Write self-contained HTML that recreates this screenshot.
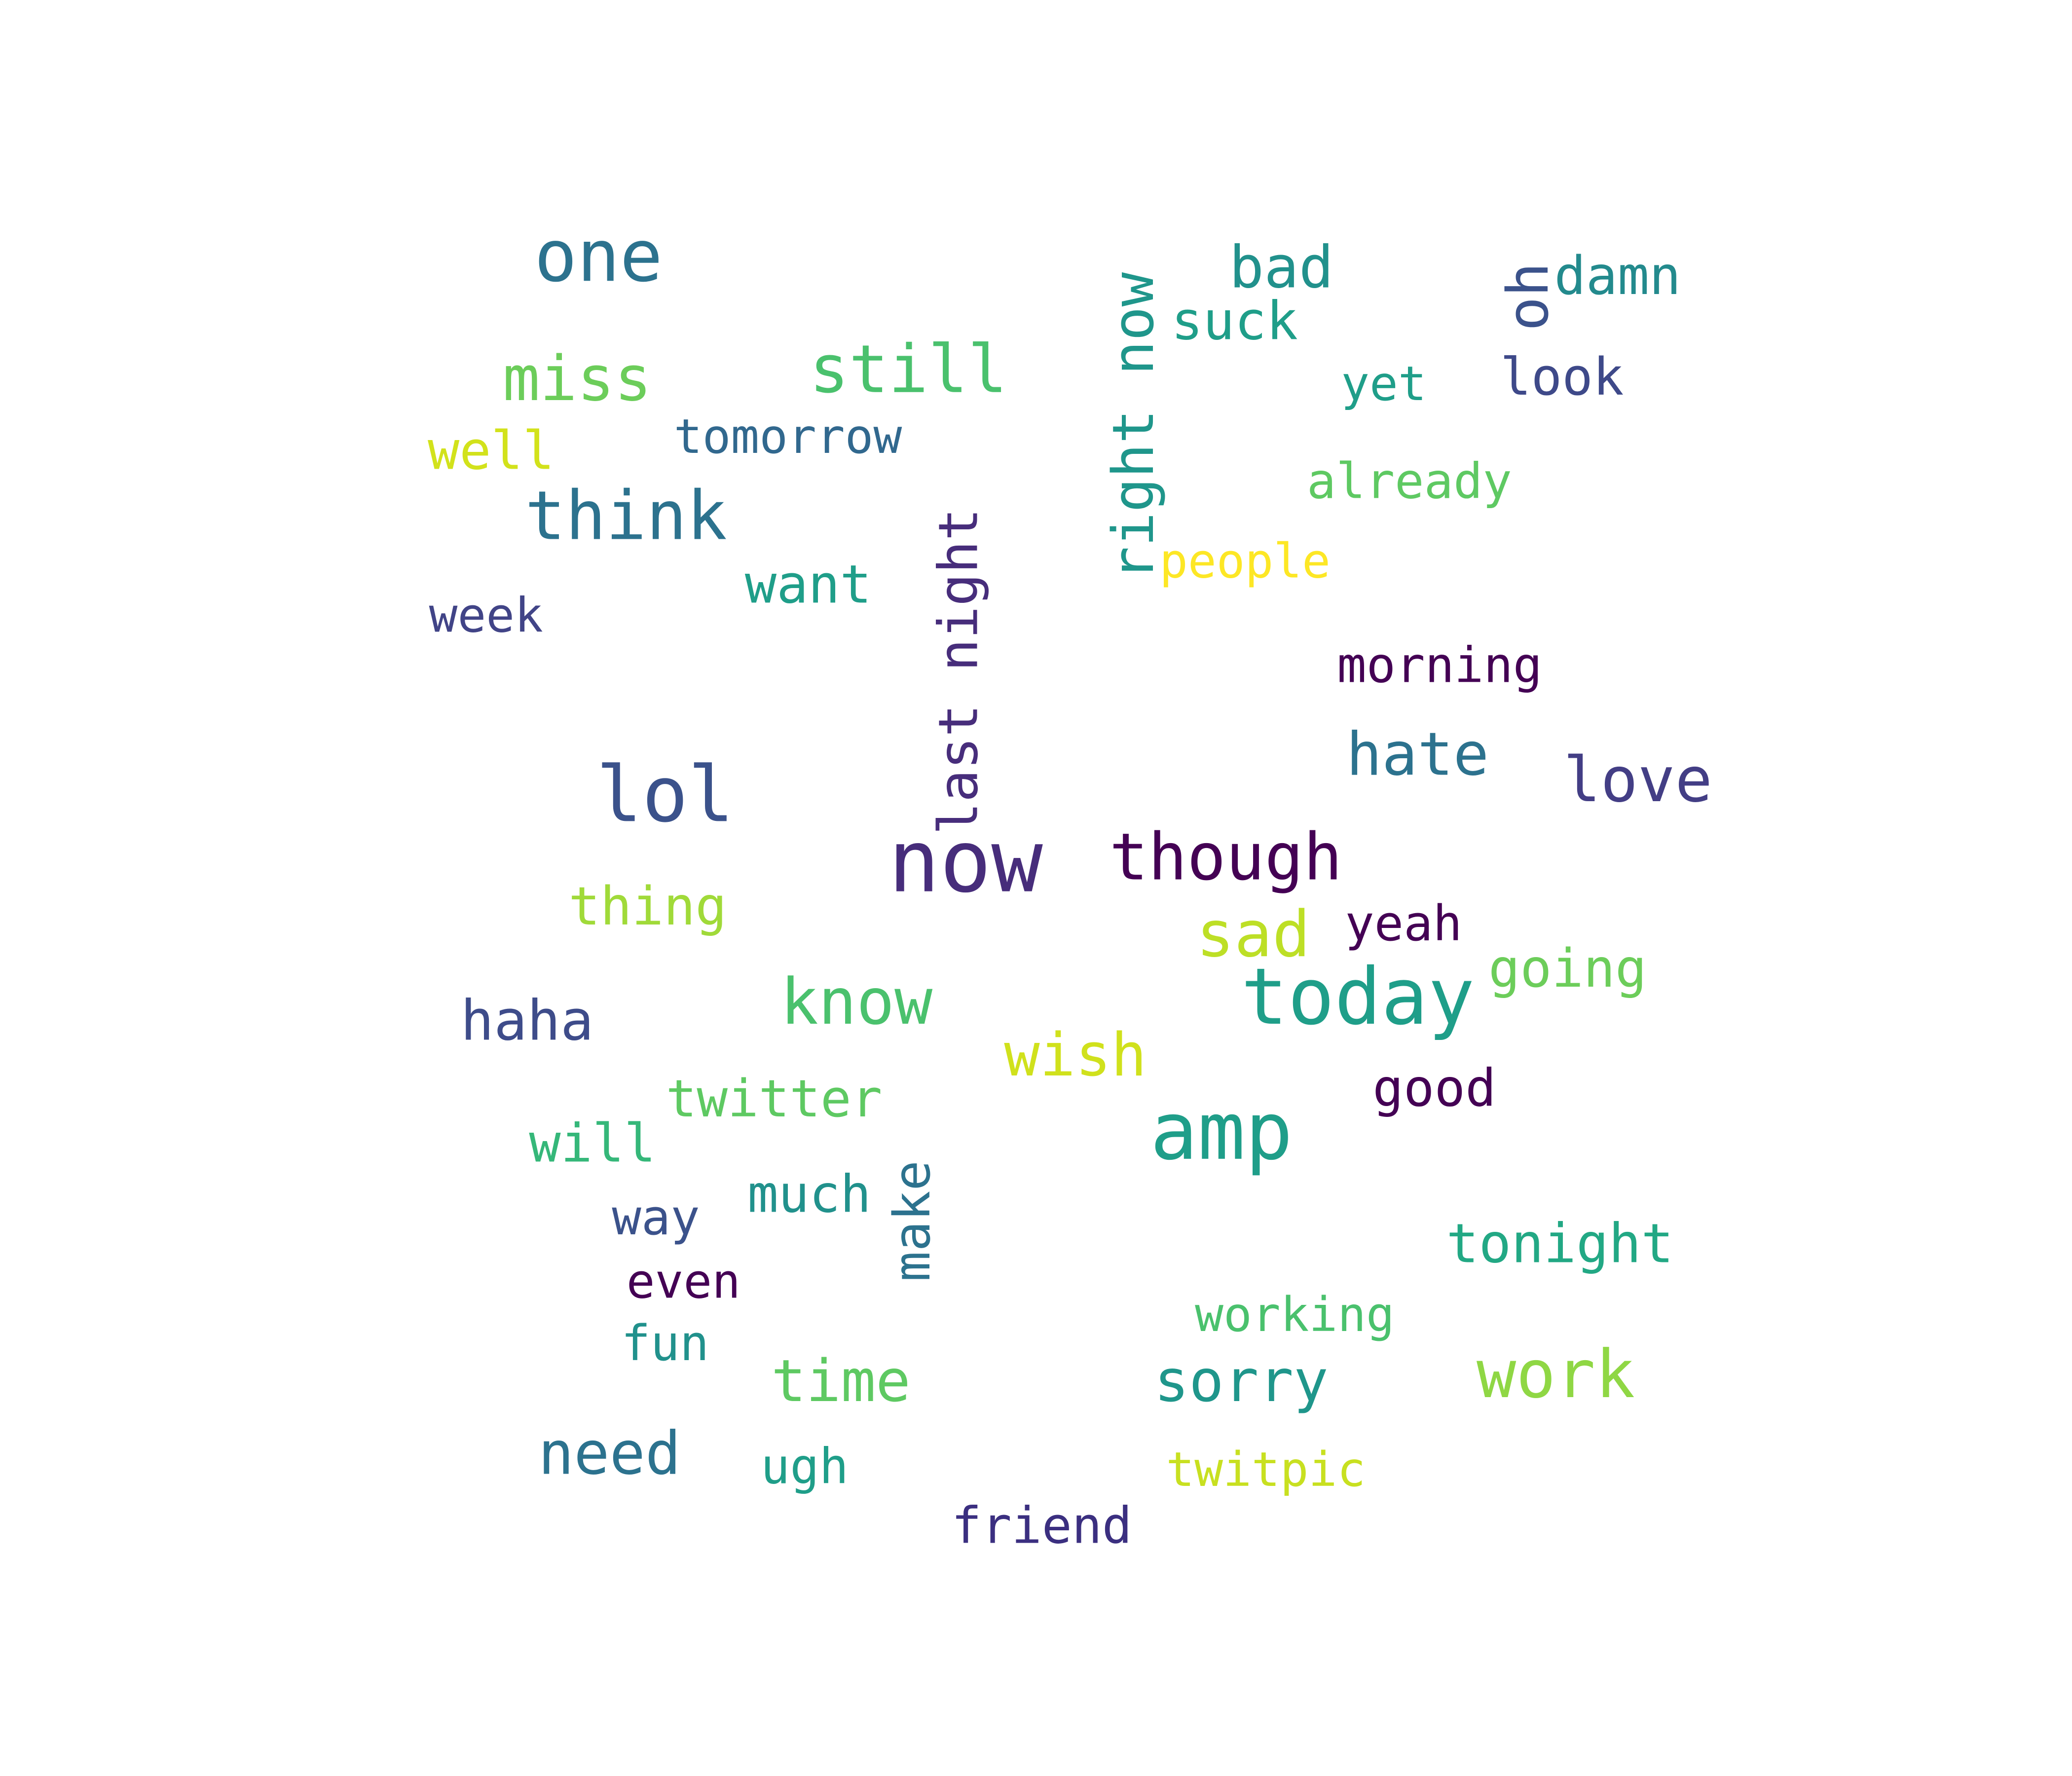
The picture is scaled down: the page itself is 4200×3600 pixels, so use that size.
<!DOCTYPE html>
<html><head><meta charset="utf-8">
<style>
html,body{margin:0;padding:0;background:#fff;}
svg{display:block;}
text{font-family:"DejaVu Sans Mono","Liberation Mono",monospace;}
</style></head>
<body>
<svg id="cloud-root" xmlns="http://www.w3.org/2000/svg" width="4200" height="3600" viewBox="0 0 1560 1337">
<rect width="1560" height="1337" fill="#ffffff"/>
<g id="cloud" transform="matrix(0.9908,0,0,0.997,1,0)"></g>
</svg>
<script>
const words = ["one","still","miss","tomorrow","well","think","want","week","lol","now","though","thing","sad","yeah","today","going","know","haha","wish","twitter","good","amp","will","much","way","even","tonight","working","fun","time","sorry","work","need","ugh","twitpic","friend","bad","suck","damn","look","yet","already","people","morning","hate","love","right now","last night","oh","make"];
const sizes = [54,50,47,36,40,51,40,36,58,65,49,40,48,37,59,40,48,42,45,39,39,60,40,39,37,36,41,36,37,44,44,50,45,37,36,38,44,40,40,39,36,37,36,37,45,47,43,41,43,38];
const colors = ["#2c728e","#4ac16d","#6ccd5a","#31688e","#d2e21b","#2c728e","#1f9e89","#414487","#3b528b","#472d7b","#440154","#a0da39","#bddf26","#440154","#1f9e89","#6ccd5a","#4ac16d","#3e4c8a","#d0e11c","#5ec962","#440154","#1f9e89","#35b779","#21918c","#3b528b","#440154","#22a884","#4ac16d","#21918c","#5ec962","#1f968b","#8fd744","#2c728e","#1f9e89","#c8e020","#3b2f80","#21918c","#1f9e89","#238a8d","#3e4989","#1f9e89","#5ec962","#fde725","#440154","#2c728e","#433e85","#1f968b","#472d7b","#3b528b","#2c728e"];
const rotated = [0,0,0,0,0,0,0,0,0,0,0,0,0,0,0,0,0,0,0,0,0,0,0,0,0,0,0,0,0,0,0,0,0,0,0,0,0,0,0,0,0,0,0,0,0,0,1,1,1,1];
const ax = [405,614,381,511,324,398,565,325,452,674,842,431,908,1021,942,1130,592,349,762,505,1042,873,401,567,464,475,1098,907,471,585,876,1121,408,577,885,722,933,889,1180,1139,1018,992,880,1015,1022,1187,860,727,1160,692];
const ay = [212,296,302,342,354,407,455,477,620,673,664,698,722,710,773,745,773,785,812,843,835,875,877,915,932,980,953,1005,1027,1058,1058,1055,1113,1120,1122,1165,217,256,222,298,302,376,436,515,585,605,322,507,224,922];
const svg = document.getElementById('cloud');
const NS = "http://www.w3.org/2000/svg";
for (let i = 0; i < words.length; i++) {
  const t = document.createElementNS(NS, 'text');
  t.textContent = words[i];
  t.setAttribute('font-size', sizes[i]);
  t.setAttribute('fill', colors[i]);
  if (rotated[i]) {
    t.setAttribute('x', 0);
    t.setAttribute('y', 0);
    t.setAttribute('text-anchor', 'middle');
    t.setAttribute('dy', '0.35em');
    t.setAttribute('transform', 'translate(' + ax[i] + ',' + ay[i] + ') rotate(-90)');
  } else {
    t.setAttribute('x', ax[i]);
    t.setAttribute('y', ay[i]);
  }
  
  
  svg.appendChild(t);
}
</script>
</body></html>
